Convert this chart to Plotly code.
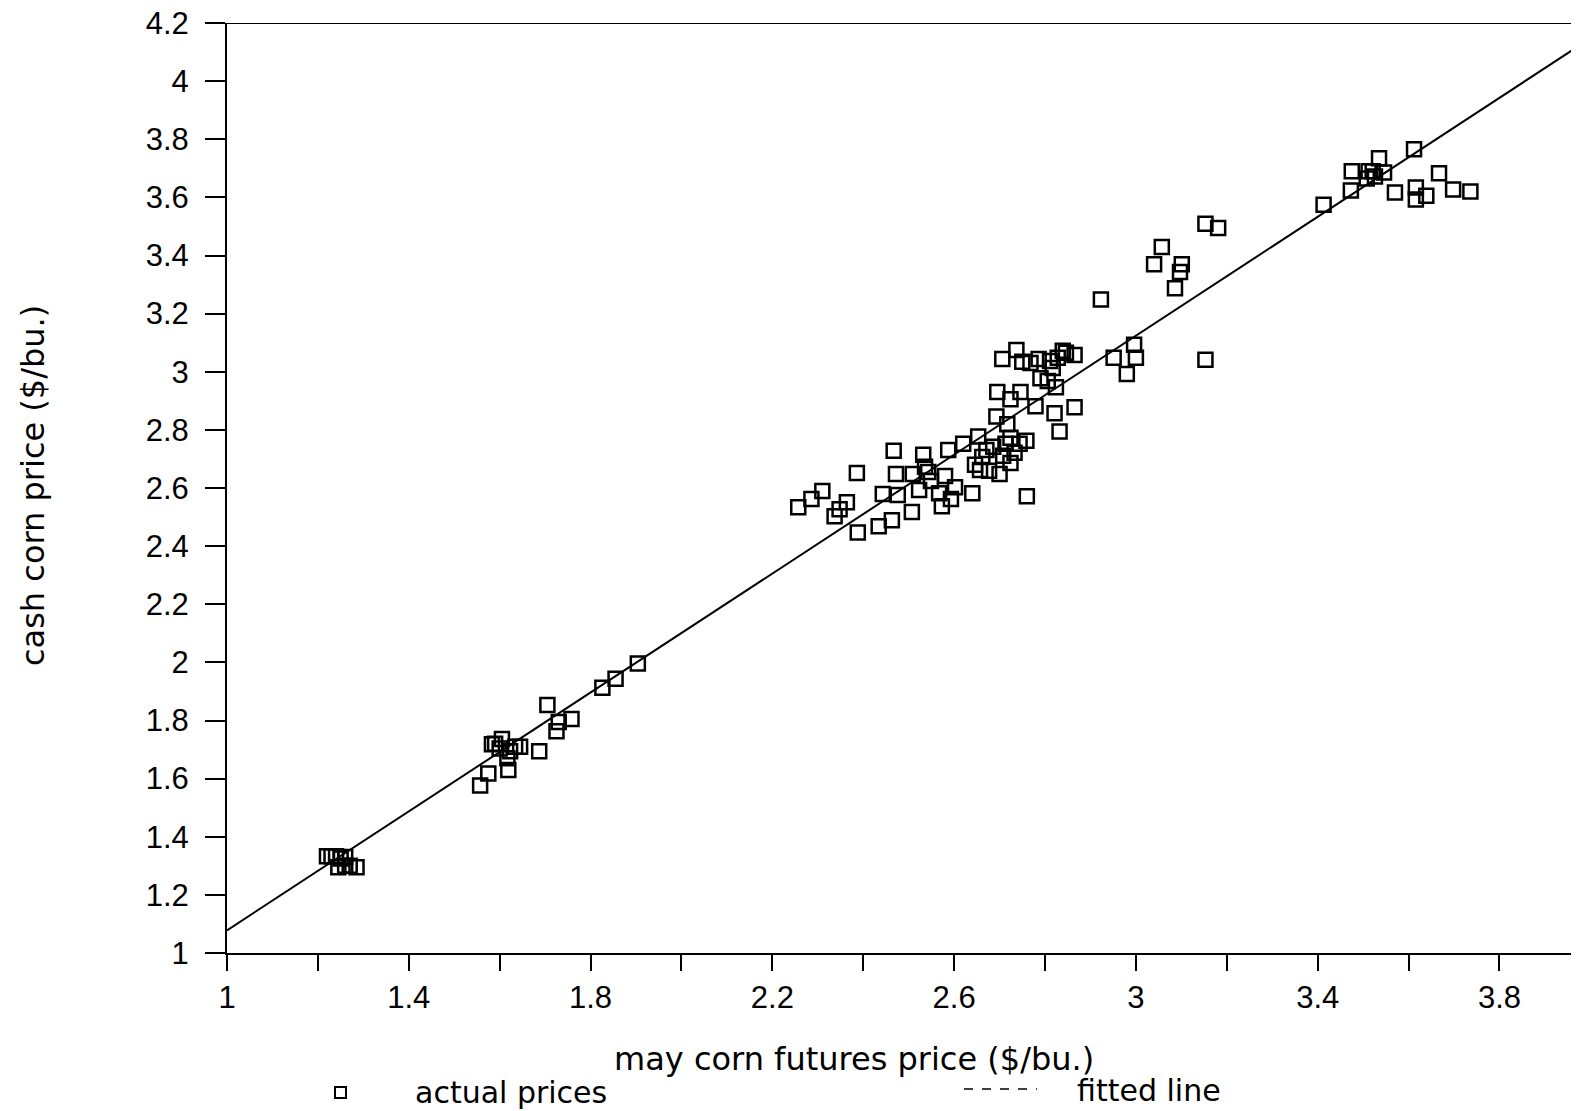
import plotly.graph_objects as go

# Actual prices: may corn futures price (x) vs cash corn price (y), $/bu.
futures = [
    1.22, 1.23, 1.24, 1.25, 1.26, 1.245, 1.26, 1.27, 1.285,
    1.557, 1.575, 1.583, 1.59, 1.605, 1.60, 1.617, 1.619, 1.623, 1.634, 1.645,
    1.687, 1.705, 1.725, 1.73, 1.758, 1.826, 1.855, 1.904,
    2.257, 2.286, 2.31, 2.337, 2.348, 2.364, 2.386, 2.388, 2.434, 2.443,
    2.463, 2.467, 2.472, 2.476, 2.507, 2.509, 2.523, 2.532, 2.536, 2.543,
    2.549, 2.567, 2.573, 2.58, 2.587, 2.593, 2.602, 2.62, 2.64, 2.646,
    2.653, 2.662, 2.671, 2.677, 2.686, 2.693, 2.695, 2.70, 2.708, 2.713,
    2.717, 2.724, 2.724, 2.733, 2.744, 2.746, 2.737, 2.706, 2.759, 2.76,
    2.768, 2.779, 2.79, 2.786, 2.806, 2.817, 2.821, 2.824, 2.828, 2.832,
    2.839, 2.846, 2.865, 2.865, 2.811, 2.75, 2.724, 2.657,
    2.923, 2.951, 2.98, 2.996, 3.0, 3.04, 3.057, 3.086, 3.097, 3.101,
    3.153, 3.181, 3.153,
    3.413, 3.473, 3.475, 3.508, 3.512, 3.521, 3.535, 3.546, 3.57, 3.612,
    3.616, 3.616, 3.639, 3.667, 3.698, 3.736, 3.526,
]
cash = [
    1.333, 1.333, 1.333, 1.325, 1.33, 1.295, 1.30, 1.30, 1.295,
    1.576, 1.618, 1.718, 1.72, 1.736, 1.704, 1.67, 1.63, 1.694, 1.71, 1.71,
    1.694, 1.853, 1.763, 1.795, 1.805, 1.913, 1.944, 1.996,
    2.534, 2.562, 2.59, 2.503, 2.527, 2.551, 2.652, 2.447, 2.468, 2.579,
    2.489, 2.728, 2.648, 2.576, 2.517, 2.648, 2.593, 2.714, 2.673, 2.655,
    2.624, 2.582, 2.537, 2.641, 2.731, 2.562, 2.603, 2.752, 2.582, 2.68,
    2.777, 2.707, 2.731, 2.659, 2.742, 2.846, 2.93, 2.648, 2.711, 2.752,
    2.819, 2.905, 2.686, 2.721, 2.752, 2.93, 3.075, 3.044, 2.763, 2.572,
    3.030, 2.881, 2.978, 3.044, 2.968, 3.013, 2.857, 2.947, 3.048, 2.794,
    3.072, 3.065, 2.878, 3.058, 3.037, 3.034, 2.773, 2.662,
    3.249, 3.048, 2.992, 3.093, 3.048, 3.37, 3.429, 3.287, 3.343, 3.37,
    3.509, 3.495, 3.041,
    3.575, 3.624, 3.69, 3.665, 3.69, 3.69, 3.735, 3.686, 3.617, 3.766,
    3.634, 3.593, 3.606, 3.683, 3.627, 3.62, 3.672,
]

# Fitted line coefficients (cash = intercept + slope * futures)
fit_intercept = 0.055
fit_slope = 1.023
fit_x = [1.0, 4.2]
fit_y = [fit_intercept + fit_slope * v for v in fit_x]

x_tickvals = [1.0, 1.2, 1.4, 1.6, 1.8, 2.0, 2.2, 2.4, 2.6, 2.8, 3.0, 3.2, 3.4, 3.6, 3.8]
x_ticktext = ["1", "", "1.4", "", "1.8", "", "2.2", "", "2.6", "", "3", "", "3.4", "", "3.8"]
y_tickvals = [1.0, 1.2, 1.4, 1.6, 1.8, 2.0, 2.2, 2.4, 2.6, 2.8, 3.0, 3.2, 3.4, 3.6, 3.8, 4.0, 4.2]
y_ticktext = ["1", "1.2", "1.4", "1.6", "1.8", "2", "2.2", "2.4", "2.6", "2.8", "3",
              "3.2", "3.4", "3.6", "3.8", "4", "4.2"]

fig = go.Figure()
fig.add_trace(go.Scatter(
    x=fit_x, y=fit_y, mode="lines",
    line=dict(color="black", width=2), name="fitted line",
    cliponaxis=True, showlegend=False,
))
fig.add_trace(go.Scatter(
    x=futures, y=cash, mode="markers",
    marker=dict(symbol="square-open", size=14, color="black", line=dict(width=2.5, color="black")),
    name="actual prices", showlegend=False,
))

OFF = 8  # default page body margin
W, H = 1579 - OFF, 1111 - OFF
# plot area in screen pixels: left 227, top 23, bottom 953, right edge of window
L, R, T = 227 - OFF, 0, 23 - OFF
B = H - (953 - OFF)
PW, PH = W - L - R, H - T - B


def px(xs):
    return (xs - OFF - L) / PW


def py(ys):
    return (H - B - (ys - OFF)) / PH


fig.update_layout(
    width=W, height=H,
    margin=dict(l=L, r=R, t=T, b=B, autoexpand=False),
    paper_bgcolor="white", plot_bgcolor="white",
    font=dict(family="DejaVu Sans", color="black"),
    xaxis=dict(
        range=[1.0, 3.975], tickvals=x_tickvals, ticktext=x_ticktext,
        ticks="outside", ticklen=16, tickwidth=2, tickcolor="black",
        showline=True, linecolor="black", linewidth=2,
        showgrid=False, zeroline=False, automargin=False, ticklabeloverflow="allow",
        tickfont=dict(family="Liberation Sans", size=31, color="black"),
    ),
    yaxis=dict(
        range=[1.0, 4.2], tickvals=y_tickvals, ticktext=y_ticktext,
        ticks="outside", ticklen=20, tickwidth=2, tickcolor="black",
        showline=True, linecolor="black", linewidth=2,
        showgrid=False, zeroline=False, ticklabelstandoff=10, automargin=False,
        ticklabeloverflow="allow",
        tickfont=dict(family="Liberation Sans", size=31, color="black"),
    ),
    shapes=[
        dict(type="line", xref="paper", yref="y", x0=0, x1=1, y0=4.2, y1=4.2,
             line=dict(color="black", width=2)),
        # legend symbols
        dict(type="rect", xref="paper", yref="paper",
             x0=px(335), x1=px(346), y0=py(1098), y1=py(1087),
             line=dict(color="black", width=2)),
        dict(type="line", xref="paper", yref="paper",
             x0=px(964), x1=px(1037), y0=py(1089), y1=py(1089),
             line=dict(color="black", width=1.5, dash="dash")),
    ],
    annotations=[
        dict(text="may corn futures price ($/bu.)", xref="paper", yref="paper",
             x=px(854), y=py(1059), xanchor="center", yanchor="middle", showarrow=False,
             font=dict(family="DejaVu Sans", size=32, color="black")),
        dict(text="cash corn price ($/bu.)", xref="paper", yref="paper",
             x=px(33), y=py(485), textangle=-90,
             xanchor="center", yanchor="middle", showarrow=False,
             font=dict(family="DejaVu Sans", size=32, color="black")),
        dict(text="actual prices", xref="paper", yref="paper",
             x=px(413), y=py(1092), xanchor="left", yanchor="middle", showarrow=False,
             font=dict(family="DejaVu Sans", size=30, color="black")),
        dict(text="fitted line", xref="paper", yref="paper",
             x=px(1075), y=py(1090), xanchor="left", yanchor="middle", showarrow=False,
             font=dict(family="DejaVu Sans", size=30, color="black")),
    ],
)

fig.write_html("out.html")
